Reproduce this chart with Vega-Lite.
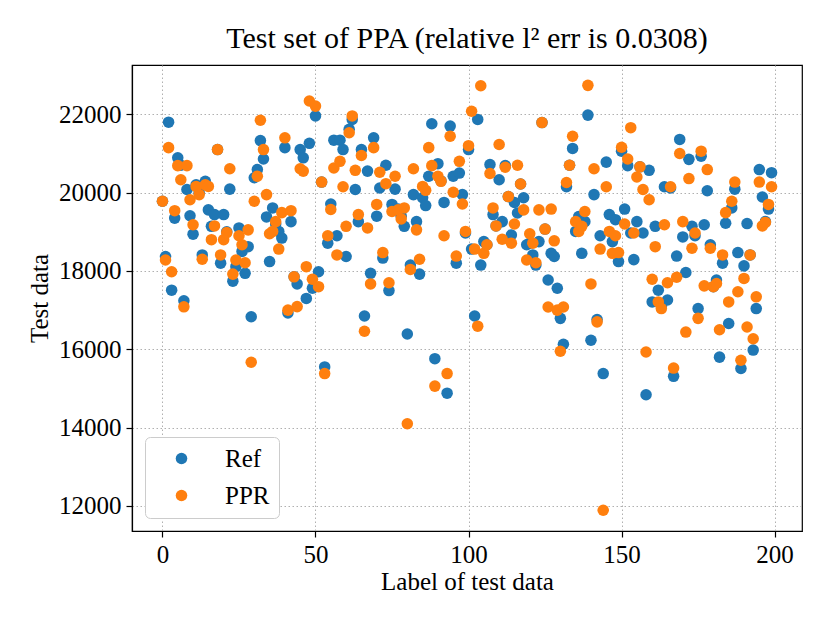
{
  "$schema": "https://vega.github.io/schema/vega-lite/v6.json",
  "width": 670,
  "height": 466,
  "autosize": {"type": "none"},
  "padding": {"left": 132, "top": 65, "right": 28, "bottom": 92},
  "title": {
    "text": "Test set of PPA (relative l² err is 0.0308)",
    "font": "Liberation Serif",
    "fontSize": 30,
    "fontWeight": "normal",
    "color": "black",
    "anchor": "middle",
    "offset": 11
  },
  "data": {
    "values": [
      {"label": 0, "Ref": 19780, "PPR": 19780}, {"label": 1, "Ref": 18370, "PPR": 18280},
      {"label": 2, "Ref": 21800, "PPR": 21150}, {"label": 3, "Ref": 17510, "PPR": 17980},
      {"label": 4, "Ref": 19350, "PPR": 19540}, {"label": 5, "Ref": 20890, "PPR": 20690},
      {"label": 6, "Ref": 20700, "PPR": 20330}, {"label": 7, "Ref": 17240, "PPR": 17085},
      {"label": 8, "Ref": 20080, "PPR": 20690}, {"label": 9, "Ref": 19410, "PPR": 19820},
      {"label": 10, "Ref": 18940, "PPR": 19180}, {"label": 11, "Ref": 20200, "PPR": 20160},
      {"label": 12, "Ref": 20000, "PPR": 19950}, {"label": 13, "Ref": 18410, "PPR": 18300},
      {"label": 14, "Ref": 20290, "PPR": 20200}, {"label": 15, "Ref": 19560, "PPR": 20160},
      {"label": 16, "Ref": 19140, "PPR": 18800}, {"label": 17, "Ref": 19440, "PPR": 19150},
      {"label": 18, "Ref": 21100, "PPR": 21100}, {"label": 19, "Ref": 18200, "PPR": 18410},
      {"label": 20, "Ref": 19440, "PPR": 18800}, {"label": 21, "Ref": 19000, "PPR": 18980},
      {"label": 22, "Ref": 20090, "PPR": 20610}, {"label": 23, "Ref": 17740, "PPR": 17920},
      {"label": 24, "Ref": 18110, "PPR": 18280}, {"label": 25, "Ref": 19100, "PPR": 18900},
      {"label": 26, "Ref": 18500, "PPR": 18670}, {"label": 27, "Ref": 17940, "PPR": 18210},
      {"label": 28, "Ref": 18620, "PPR": 19050}, {"label": 29, "Ref": 16830, "PPR": 15670},
      {"label": 30, "Ref": 20380, "PPR": 19780}, {"label": 31, "Ref": 20590, "PPR": 20420},
      {"label": 32, "Ref": 21330, "PPR": 21850}, {"label": 33, "Ref": 20860, "PPR": 21100},
      {"label": 34, "Ref": 19380, "PPR": 19950}, {"label": 35, "Ref": 18240, "PPR": 18950},
      {"label": 36, "Ref": 19610, "PPR": 19010}, {"label": 37, "Ref": 19200, "PPR": 19260},
      {"label": 38, "Ref": 19010, "PPR": 18560}, {"label": 39, "Ref": 18840, "PPR": 19490},
      {"label": 40, "Ref": 21150, "PPR": 21400}, {"label": 41, "Ref": 16930, "PPR": 17000},
      {"label": 42, "Ref": 19260, "PPR": 19540}, {"label": 43, "Ref": 17850, "PPR": 17850},
      {"label": 44, "Ref": 17670, "PPR": 17090}, {"label": 45, "Ref": 21100, "PPR": 20610},
      {"label": 46, "Ref": 20890, "PPR": 20550}, {"label": 47, "Ref": 17300, "PPR": 18110},
      {"label": 48, "Ref": 21260, "PPR": 22340}, {"label": 49, "Ref": 17560, "PPR": 17790},
      {"label": 50, "Ref": 21960, "PPR": 22210}, {"label": 51, "Ref": 17980, "PPR": 17600},
      {"label": 52, "Ref": 20270, "PPR": 20270}, {"label": 53, "Ref": 15550, "PPR": 15380},
      {"label": 54, "Ref": 18710, "PPR": 18900}, {"label": 55, "Ref": 19710, "PPR": 19570},
      {"label": 56, "Ref": 21340, "PPR": 20630}, {"label": 57, "Ref": 18900, "PPR": 18410},
      {"label": 58, "Ref": 21340, "PPR": 20800}, {"label": 59, "Ref": 21100, "PPR": 20150},
      {"label": 60, "Ref": 18370, "PPR": 19140}, {"label": 61, "Ref": 21620, "PPR": 21530},
      {"label": 62, "Ref": 21870, "PPR": 21960}, {"label": 63, "Ref": 20080, "PPR": 20570},
      {"label": 64, "Ref": 19260, "PPR": 19440}, {"label": 65, "Ref": 21100, "PPR": 20950},
      {"label": 66, "Ref": 16850, "PPR": 16460}, {"label": 67, "Ref": 20550, "PPR": 19100},
      {"label": 68, "Ref": 17940, "PPR": 17670}, {"label": 69, "Ref": 21400, "PPR": 21150},
      {"label": 70, "Ref": 19400, "PPR": 19700}, {"label": 71, "Ref": 20120, "PPR": 20520},
      {"label": 72, "Ref": 18330, "PPR": 18470}, {"label": 73, "Ref": 20700, "PPR": 20230},
      {"label": 74, "Ref": 17500, "PPR": 17700}, {"label": 75, "Ref": 19700, "PPR": 19520},
      {"label": 76, "Ref": 20090, "PPR": 20420}, {"label": 77, "Ref": 19580, "PPR": 19560},
      {"label": 78, "Ref": 19400, "PPR": 19330}, {"label": 79, "Ref": 19140, "PPR": 19610},
      {"label": 80, "Ref": 16390, "PPR": 14100}, {"label": 81, "Ref": 18150, "PPR": 18040},
      {"label": 82, "Ref": 19950, "PPR": 20610}, {"label": 83, "Ref": 19260, "PPR": 19050},
      {"label": 84, "Ref": 17920, "PPR": 18300}, {"label": 85, "Ref": 19870, "PPR": 20160},
      {"label": 86, "Ref": 19670, "PPR": 20060}, {"label": 87, "Ref": 20420, "PPR": 21150},
      {"label": 88, "Ref": 21760, "PPR": 20690}, {"label": 89, "Ref": 15760, "PPR": 15060},
      {"label": 90, "Ref": 20740, "PPR": 20420}, {"label": 91, "Ref": 20300, "PPR": 20290},
      {"label": 92, "Ref": 19750, "PPR": 18900}, {"label": 93, "Ref": 14880, "PPR": 15380},
      {"label": 94, "Ref": 21700, "PPR": 21440}, {"label": 95, "Ref": 20420, "PPR": 20010},
      {"label": 96, "Ref": 18200, "PPR": 18380}, {"label": 97, "Ref": 20500, "PPR": 20800},
      {"label": 98, "Ref": 19950, "PPR": 19710}, {"label": 99, "Ref": 18970, "PPR": 19010},
      {"label": 100, "Ref": 21100, "PPR": 21200}, {"label": 101, "Ref": 18560, "PPR": 22080},
      {"label": 102, "Ref": 16850, "PPR": 18560}, {"label": 103, "Ref": 21870, "PPR": 16590},
      {"label": 104, "Ref": 18150, "PPR": 22730}, {"label": 105, "Ref": 18750, "PPR": 18450},
      {"label": 106, "Ref": 18670, "PPR": 18670}, {"label": 107, "Ref": 20720, "PPR": 20490},
      {"label": 108, "Ref": 19440, "PPR": 19610}, {"label": 109, "Ref": 19150, "PPR": 19150},
      {"label": 110, "Ref": 20330, "PPR": 21230}, {"label": 111, "Ref": 19260, "PPR": 18810},
      {"label": 112, "Ref": 20690, "PPR": 20650}, {"label": 113, "Ref": 19900, "PPR": 19900},
      {"label": 114, "Ref": 18920, "PPR": 18710}, {"label": 115, "Ref": 19750, "PPR": 19200},
      {"label": 116, "Ref": 19480, "PPR": 20700}, {"label": 117, "Ref": 20220, "PPR": 20220},
      {"label": 118, "Ref": 19870, "PPR": 19560}, {"label": 119, "Ref": 18670, "PPR": 18280},
      {"label": 120, "Ref": 18710, "PPR": 18950}, {"label": 121, "Ref": 18410, "PPR": 18710},
      {"label": 122, "Ref": 18150, "PPR": 18210}, {"label": 123, "Ref": 18750, "PPR": 19560},
      {"label": 124, "Ref": 21790, "PPR": 21790}, {"label": 125, "Ref": 19070, "PPR": 19070},
      {"label": 126, "Ref": 17770, "PPR": 17080}, {"label": 127, "Ref": 18450, "PPR": 19580},
      {"label": 128, "Ref": 18370, "PPR": 18770}, {"label": 129, "Ref": 17560, "PPR": 17000},
      {"label": 130, "Ref": 16790, "PPR": 15950}, {"label": 131, "Ref": 16130, "PPR": 17080},
      {"label": 132, "Ref": 20150, "PPR": 20260}, {"label": 133, "Ref": 20700, "PPR": 20700},
      {"label": 134, "Ref": 21130, "PPR": 21440}, {"label": 135, "Ref": 19010, "PPR": 19260},
      {"label": 136, "Ref": 19390, "PPR": 19010}, {"label": 137, "Ref": 18450, "PPR": 19140},
      {"label": 138, "Ref": 19260, "PPR": 19520}, {"label": 139, "Ref": 21980, "PPR": 22740},
      {"label": 140, "Ref": 16230, "PPR": 17670}, {"label": 141, "Ref": 19950, "PPR": 20610},
      {"label": 142, "Ref": 16760, "PPR": 16700}, {"label": 143, "Ref": 18900, "PPR": 18560},
      {"label": 144, "Ref": 15380, "PPR": 11890}, {"label": 145, "Ref": 20780, "PPR": 20150},
      {"label": 146, "Ref": 19440, "PPR": 19010}, {"label": 147, "Ref": 18750, "PPR": 18450},
      {"label": 148, "Ref": 19310, "PPR": 18900}, {"label": 149, "Ref": 18240, "PPR": 18470},
      {"label": 150, "Ref": 21060, "PPR": 21160}, {"label": 151, "Ref": 19580, "PPR": 19200},
      {"label": 152, "Ref": 20690, "PPR": 20860}, {"label": 153, "Ref": 18970, "PPR": 21660},
      {"label": 154, "Ref": 18290, "PPR": 18970}, {"label": 155, "Ref": 19260, "PPR": 20400},
      {"label": 156, "Ref": 20660, "PPR": 20660}, {"label": 157, "Ref": 18970, "PPR": 20080},
      {"label": 158, "Ref": 14840, "PPR": 15930}, {"label": 159, "Ref": 20570, "PPR": 19820},
      {"label": 160, "Ref": 17210, "PPR": 17790}, {"label": 161, "Ref": 19140, "PPR": 18620},
      {"label": 162, "Ref": 17510, "PPR": 17210}, {"label": 163, "Ref": 17100, "PPR": 17040},
      {"label": 164, "Ref": 20150, "PPR": 19180}, {"label": 165, "Ref": 17260, "PPR": 17700},
      {"label": 166, "Ref": 20120, "PPR": 20150}, {"label": 167, "Ref": 15310, "PPR": 15520},
      {"label": 168, "Ref": 18380, "PPR": 17840}, {"label": 169, "Ref": 21360, "PPR": 21000},
      {"label": 170, "Ref": 18870, "PPR": 19260}, {"label": 171, "Ref": 17960, "PPR": 16440},
      {"label": 172, "Ref": 20850, "PPR": 20360}, {"label": 173, "Ref": 19140, "PPR": 18580},
      {"label": 174, "Ref": 18900, "PPR": 18970}, {"label": 175, "Ref": 17040, "PPR": 16790},
      {"label": 176, "Ref": 20930, "PPR": 21060}, {"label": 177, "Ref": 19180, "PPR": 17620},
      {"label": 178, "Ref": 20050, "PPR": 20590}, {"label": 179, "Ref": 18670, "PPR": 18580},
      {"label": 180, "Ref": 17600, "PPR": 17600}, {"label": 181, "Ref": 17770, "PPR": 17680},
      {"label": 182, "Ref": 15800, "PPR": 16500}, {"label": 183, "Ref": 18200, "PPR": 18410},
      {"label": 184, "Ref": 19220, "PPR": 19490}, {"label": 185, "Ref": 16660, "PPR": 17210},
      {"label": 186, "Ref": 19610, "PPR": 19780}, {"label": 187, "Ref": 20090, "PPR": 20270},
      {"label": 188, "Ref": 18470, "PPR": 17470}, {"label": 189, "Ref": 15510, "PPR": 15720},
      {"label": 190, "Ref": 18130, "PPR": 17810}, {"label": 191, "Ref": 19210, "PPR": 16570},
      {"label": 192, "Ref": 18410, "PPR": 18410}, {"label": 193, "Ref": 15980, "PPR": 16270},
      {"label": 194, "Ref": 17040, "PPR": 17340}, {"label": 195, "Ref": 20590, "PPR": 20270},
      {"label": 196, "Ref": 19890, "PPR": 19150}, {"label": 197, "Ref": 19260, "PPR": 19240},
      {"label": 198, "Ref": 19580, "PPR": 19700}, {"label": 199, "Ref": 20510, "PPR": 20150}
    ]
  },
  "transform": [
    {"fold": ["Ref", "PPR"], "as": ["series", "value"]}
  ],
  "mark": {"type": "circle", "size": 133, "opacity": 1},
  "encoding": {
    "x": {
      "field": "label",
      "type": "quantitative",
      "scale": {"domain": [-9.95, 208.95], "nice": false, "zero": false},
      "axis": {"values": [0, 50, 100, 150, 200], "title": "Label of test data", "titlePadding": 2}
    },
    "y": {
      "field": "value",
      "type": "quantitative",
      "scale": {"domain": [11360, 23260], "nice": false, "zero": false},
      "axis": {
        "values": [12000, 14000, 16000, 18000, 20000, 22000],
        "format": "d",
        "title": "Test data",
        "titlePadding": 6
      }
    },
    "color": {
      "field": "series",
      "type": "nominal",
      "scale": {"domain": ["Ref", "PPR"], "range": ["#1f77b4", "#ff7f0e"]},
      "legend": {
        "title": null,
        "orient": "none",
        "legendX": 13,
        "legendY": 372,
        "fillColor": "white",
        "strokeColor": "#cccccc",
        "cornerRadius": 5,
        "padding": 9,
        "symbolType": "circle",
        "symbolSize": 133,
        "symbolOpacity": 1,
        "symbolStrokeWidth": 0,
        "symbolOffset": 15,
        "labelOffset": 31,
        "rowPadding": 11,
        "labelFont": "Liberation Serif",
        "labelFontSize": 25,
        "labelColor": "black"
      }
    },
    "order": {"field": "series", "sort": "descending"}
  },
  "config": {
    "view": {"stroke": "black", "strokeWidth": 1.2},
    "axis": {
      "domainColor": "black",
      "domainWidth": 1.2,
      "tickColor": "black",
      "tickSize": 6,
      "tickWidth": 1.2,
      "labelFont": "Liberation Serif",
      "labelFontSize": 25,
      "labelColor": "black",
      "labelPadding": 5,
      "titleFont": "Liberation Serif",
      "titleFontSize": 25,
      "titleFontWeight": "normal",
      "titleColor": "black",
      "gridColor": "#b0b0b0",
      "gridDash": [1.5, 2.5],
      "gridWidth": 1
    }
  }
}
